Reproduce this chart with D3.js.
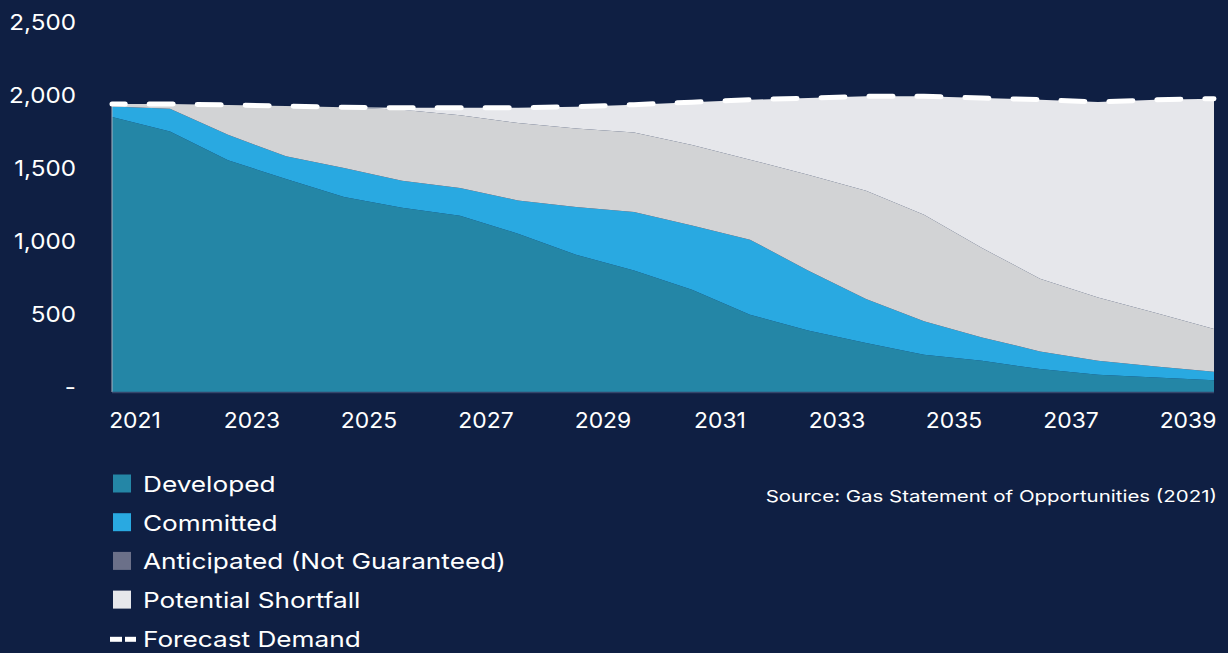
<!DOCTYPE html>
<html>
<head>
<meta charset="utf-8">
<script src="https://cdn.jsdelivr.net/npm/d3@7"></script>
<style>
  html, body { margin: 0; padding: 0; background: #0f1f43; }
  svg { display: block; }
  text { font-family: "Inter", "Open Sans", sans-serif; fill: #ffffff; }
</style>
</head>
<body>
<svg id="chart" width="1228" height="653"></svg>
<script>
// ---- data (PJ) ----
const years = [2021, 2022, 2023, 2024, 2025, 2026, 2027, 2028, 2029, 2030,
               2031, 2032, 2033, 2034, 2035, 2036, 2037, 2038, 2039, 2040];
const developed   = [1884, 1785, 1587, 1459, 1336, 1262, 1208, 1084, 940, 833,
                     701, 529, 422, 335, 255, 214, 157, 118, 100, 80];
const committed   = [72, 155, 175, 155, 198, 185, 189, 228, 327, 400,
                     440, 514, 411, 302, 229, 160, 121, 96, 75, 59];
const anticipated = [17, 33, 204, 345, 416, 487, 499, 530, 538, 545,
                     551, 548, 655, 742, 730, 612, 498, 434, 366, 292];
const shortfall   = [0, 0, 0, 0, 0, 13, 51, 105, 149, 190,
                     293, 411, 525, 646, 811, 1027, 1226, 1338, 1461, 1578];
const demand      = [1973, 1973, 1966, 1959, 1950, 1947, 1947, 1947, 1954, 1968,
                     1985, 2002, 2013, 2025, 2025, 2013, 2002, 1986, 2002, 2009];
const yTicks = [0, 500, 1000, 1500, 2000, 2500];
const xTickLabels = [2021, 2023, 2025, 2027, 2029, 2031, 2033, 2035, 2037, 2039];
const seriesKeys = ["developed", "committed", "anticipated", "shortfall"];
const seriesNames = ["Developed", "Committed", "Anticipated (Not Guaranteed)", "Potential Shortfall"];
const areaColors = ["#2486a6", "#29a9e1", "#d2d3d5", "#e6e7eb"];
const legendColors = ["#2486a6", "#29a9e1", "#6b7089", "#e6e7eb"];

const rows = years.map((y, i) => ({
  year: y, developed: developed[i], committed: committed[i],
  anticipated: anticipated[i], shortfall: shortfall[i], demand: demand[i]
}));

// horizontal stretch helper (reference font is wider than the installed ones)
function stretch(sel, f) {
  sel.each(function () {
    const w = this.getComputedTextLength();
    d3.select(this).attr("textLength", w * f).attr("lengthAdjust", "spacingAndGlyphs");
  });
}

const svg = d3.select("#chart");
const x = d3.scaleLinear().domain([2021, 2040]).range([112, 1214]);
const xLab = d3.scaleLinear().domain([2021, 2039]).range([135, 1188]);
const y = d3.scaleLinear().domain([0, 2500]).range([392, 27]);

const stacked = d3.stack().keys(seriesKeys)(rows);
const area = d3.area()
  .x(d => x(d.data.year))
  .y0(d => y(d[0]))
  .y1(d => y(d[1]));

svg.append("g").selectAll("path")
  .data(stacked)
  .join("path")
  .attr("d", area)
  .attr("fill", (d, i) => areaColors[i]);

// left edge and baseline
svg.append("line")
  .attr("x1", x(2021)).attr("x2", x(2021))
  .attr("y1", y(demand[0])).attr("y2", y(0))
  .attr("stroke", "#a9b2c0").attr("stroke-width", 1);
svg.append("line")
  .attr("x1", x(2021)).attr("x2", x(2040))
  .attr("y1", y(0) + 0.5).attr("y2", y(0) + 0.5)
  .attr("stroke", "#34466b").attr("stroke-width", 1.5);

// demand dashed line
const line = d3.line().x(d => x(d.year)).y(d => y(d.demand));
svg.append("path")
  .datum(rows)
  .attr("d", line)
  .attr("fill", "none")
  .attr("stroke", "#ffffff")
  .attr("stroke-width", 5)
  .attr("stroke-linecap", "round")
  .attr("stroke-dasharray", "24,24")
  .attr("stroke-dashoffset", 10.8);

// y axis labels
svg.append("g").selectAll("text")
  .data(yTicks)
  .join("text")
  .attr("x", 76)
  .attr("y", d => y(d) - 5)
  .attr("dy", "0.35em")
  .attr("text-anchor", "end")
  .attr("font-size", 22)
  .text(d => d === 0 ? "-" : d3.format(",")(d))
  .call(stretch, 1.1);

// x axis labels
svg.append("g").selectAll("text")
  .data(xTickLabels)
  .join("text")
  .attr("x", d => xLab(d))
  .attr("y", 428)
  .attr("text-anchor", "middle")
  .attr("font-size", 22)
  .text(d => d)
  .call(stretch, 1.04);

// legend
const lg = svg.append("g");
seriesNames.forEach((name, i) => {
  const by = 492 + i * 38.7;
  lg.append("rect").attr("x", 113).attr("y", by - 17.5).attr("width", 18).attr("height", 18)
    .attr("fill", legendColors[i]);
  lg.append("text").attr("x", 143).attr("y", by).attr("font-size", 22).text(name)
    .call(stretch, 1.19);
});
const fy = 492 + 4 * 38.7;
lg.append("line").attr("x1", 110).attr("x2", 122).attr("y1", fy - 7.5).attr("y2", fy - 7.5)
  .attr("stroke", "#fff").attr("stroke-width", 5);
lg.append("line").attr("x1", 125).attr("x2", 136).attr("y1", fy - 7.5).attr("y2", fy - 7.5)
  .attr("stroke", "#fff").attr("stroke-width", 5);
lg.append("text").attr("x", 143).attr("y", fy).attr("font-size", 22).text("Forecast Demand")
  .call(stretch, 1.19);

svg.append("text")
  .attr("x", 1217).attr("y", 502)
  .attr("text-anchor", "end")
  .attr("font-size", 16.5)
  .text("Source: Gas Statement of Opportunities (2021)")
  .call(stretch, 1.24);
</script>
</body>
</html>
